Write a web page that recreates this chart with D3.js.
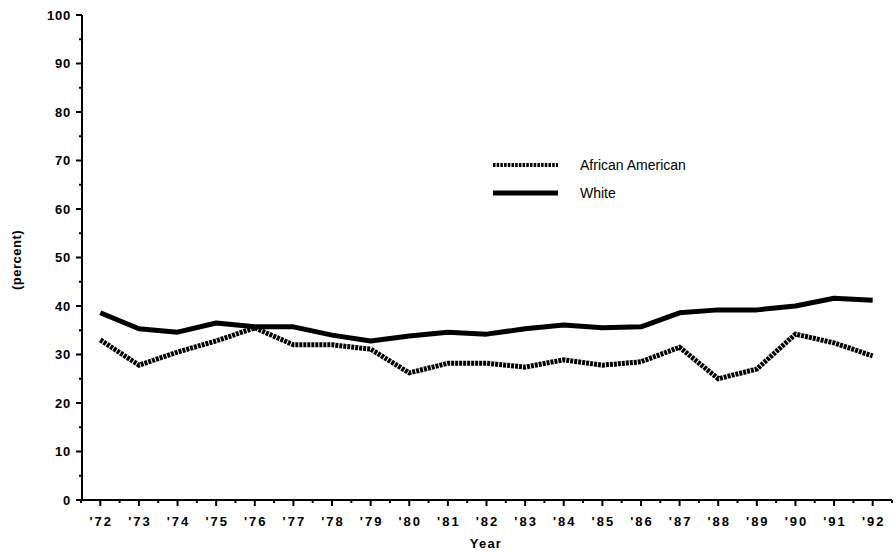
<!DOCTYPE html>
<html><head><meta charset="utf-8">
<script src="https://cdn.jsdelivr.net/npm/d3@7"></script>
<style>body{margin:0;background:#fff}svg{display:block}text{font-family:"Liberation Sans",Arial,sans-serif;fill:#000}</style>
</head><body><svg id="c" width="896" height="552"></svg>
<script>
const years = [72,73,74,75,76,77,78,79,80,81,82,83,84,85,86,87,88,89,90,91,92];
const yearLabels = years.map(y => "'" + y);
const africanAmerican = [33.0,27.8,30.5,32.8,35.5,32.0,32.0,31.1,26.2,28.2,28.2,27.4,28.9,27.8,28.5,31.5,25.0,27.0,34.2,32.4,29.7];
const white = [38.6,35.3,34.6,36.5,35.7,35.7,34.0,32.8,33.8,34.6,34.2,35.3,36.1,35.5,35.7,38.6,39.2,39.2,40.0,41.6,41.2];
const yTicks = [0,10,20,30,40,50,60,70,80,90,100];
const seriesNames = ["African American","White"];

const svg = d3.select("#c");
const x = d3.scaleLinear().domain([71.5,92.5]).range([81,892]);
const y = d3.scaleLinear().domain([0,100]).range([500,15]);

// y axis
const gy = svg.append("g").attr("transform","translate(82,0)");
gy.append("line").attr("y1",y(0)).attr("y2",y(100)).attr("stroke","#000").attr("stroke-width",2);
gy.selectAll(".maj").data(yTicks).join("line").attr("x1",-6).attr("x2",0).attr("y1",d=>y(d)).attr("y2",d=>y(d)).attr("stroke","#000").attr("stroke-width",2);
gy.selectAll(".min").data(d3.range(5,100,10)).join("line").attr("x1",-3).attr("x2",0).attr("y1",d=>y(d)).attr("y2",d=>y(d)).attr("stroke","#000").attr("stroke-width",2);
gy.selectAll(".lab").data(yTicks).join("text").attr("x",-11).attr("y",d=>y(d)).attr("dy","0.36em").attr("text-anchor","end").style("font-size","13px").style("font-weight","bold").style("letter-spacing","0.8px").text(d=>d);

// x axis
const gx = svg.append("g").attr("transform","translate(0,500)");
gx.append("line").attr("x1",81).attr("x2",892).attr("stroke","#000").attr("stroke-width",2);
gx.selectAll(".maj").data(years).join("line").attr("x1",d=>x(d)).attr("x2",d=>x(d)).attr("y1",0).attr("y2",6).attr("stroke","#000").attr("stroke-width",2);
gx.selectAll(".min").data(d3.range(71.5,93,1)).join("line").attr("x1",d=>x(d)).attr("x2",d=>x(d)).attr("y1",0).attr("y2",3).attr("stroke","#000").attr("stroke-width",2);
gx.selectAll(".lab").data(years).join("text").attr("x",d=>x(d)+1).attr("y",26).attr("text-anchor","middle").style("font-size","13px").style("font-weight","bold").style("letter-spacing","2px").text((d,i)=>yearLabels[i]);

svg.append("text").attr("x",486).attr("y",548).attr("text-anchor","middle").style("font-size","13px").style("font-weight","bold").style("letter-spacing","1.2px").text("Year");
svg.append("text").attr("transform","translate(21,260) rotate(-90)").attr("text-anchor","middle").style("font-size","13px").style("font-weight","bold").style("letter-spacing","0.5px").text("(percent)");

const line = d3.line().x((d,i)=>x(years[i])).y(d=>y(d));
svg.append("path").datum(white).attr("d",line).attr("fill","none").attr("stroke","#000").attr("stroke-width",5).attr("stroke-linejoin","round");
svg.append("path").datum(africanAmerican).attr("d",line).attr("fill","none").attr("stroke","#000").attr("stroke-width",5).attr("stroke-dasharray","3,1");

// legend
const lg = svg.append("g");
lg.append("line").attr("x1",493).attr("x2",558).attr("y1",165).attr("y2",165).attr("stroke","#000").attr("stroke-width",4).attr("stroke-dasharray","2.5,1.2");
lg.append("line").attr("x1",493).attr("x2",558).attr("y1",193).attr("y2",193).attr("stroke","#000").attr("stroke-width",5);
lg.selectAll("text").data(seriesNames).join("text").attr("x",580).attr("y",(d,i)=>165+i*28).attr("dy","0.36em").style("font-size","14px").text(d=>d);
</script></body></html>
